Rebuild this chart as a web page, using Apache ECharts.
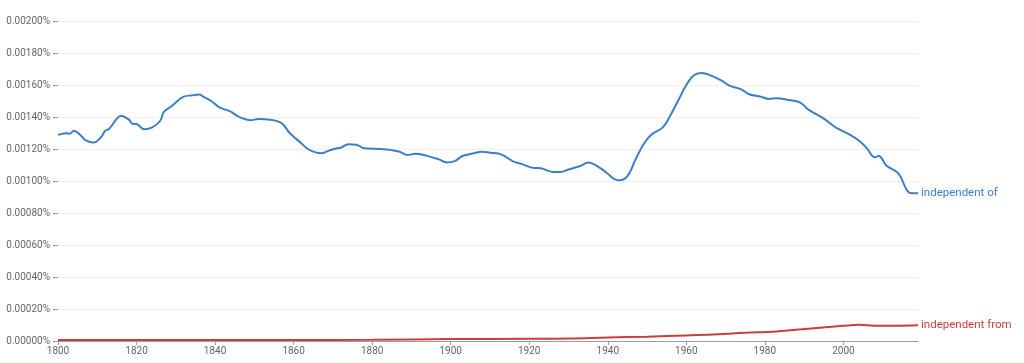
<!DOCTYPE html>
<html>
<head>
<meta charset="utf-8">
<script src="https://cdn.jsdelivr.net/npm/echarts@6/dist/echarts.min.js"></script>
<style>
html,body{margin:0;padding:0;background:#fff;}
#chart{width:1024px;height:363px;}
</style>
</head>
<body>
<div id="chart"></div>
<script>
// Tick labels
const xTickYears = [1800, 1820, 1840, 1860, 1880, 1900, 1920, 1940, 1960, 1980, 2000];

// Series: "independent of" (percent)
const ofYears = [1800,1802,1803,1804,1806,1807,1809,1811,1812,1813,1815,1816,1818,1819,1820,1822,1824,1826,1827,1829,1832,1834,1836,1837,1839,1841,1844,1846,1849,1851,1854,1857,1859,1862,1864,1867,1869,1871,1872,1874,1876,1878,1882,1885,1887,1889,1891,1894,1897,1899,1901,1903,1906,1908,1910,1913,1916,1918,1921,1923,1926,1928,1930,1933,1935,1938,1940,1942,1943,1945,1947,1949,1951,1954,1956,1958,1960,1962,1964,1966,1969,1971,1974,1976,1979,1981,1983,1986,1989,1991,1995,1998,2001,2004,2006,2008,2009,2011,2014,2016,2017,2019];
const ofValues = [0.001288,0.001298,0.001295,0.001314,0.001280,0.001255,0.001240,0.001275,0.001314,0.001325,0.001390,0.001408,0.001385,0.001358,0.001356,0.001323,0.001335,0.001375,0.001433,0.001469,0.001527,0.001535,0.001540,0.001527,0.001500,0.001462,0.001433,0.001402,0.001380,0.001387,0.001383,0.001360,0.001300,0.001235,0.001194,0.001173,0.001190,0.001205,0.001208,0.001230,0.001227,0.001204,0.001200,0.001193,0.001183,0.001162,0.001171,0.001157,0.001135,0.001116,0.001124,0.001156,0.001174,0.001183,0.001177,0.001165,0.001121,0.001107,0.001082,0.001079,0.001057,0.001057,0.001072,0.001094,0.001115,0.001082,0.001045,0.001008,0.001004,0.001030,0.001131,0.001225,0.001288,0.001335,0.001413,0.001506,0.001600,0.001662,0.001675,0.001662,0.001627,0.001596,0.001573,0.001542,0.001527,0.001513,0.001517,0.001506,0.001490,0.001448,0.001390,0.001335,0.001298,0.001252,0.001204,0.001148,0.001156,0.001095,0.001048,0.000950,0.000925,0.000923];

// Series: "independent from" (percent)
const fromYears = [1800,1820,1840,1860,1880,1900,1920,1930,1940,1950,1960,1968,1975,1983,1991,2000,2004,2008,2013,2019];
const fromValues = [0.000006,0.000007,0.000006,0.000006,0.000008,0.000012,0.000014,0.000016,0.000022,0.000027,0.000035,0.000042,0.000052,0.000060,0.000077,0.000095,0.000101,0.000095,0.000095,0.000098];

const seriesNames = ['independent of', 'independent from'];
const seriesColors = ['#3b7fc7', '#cc3e3c'];

function pairs(xs, ys) { return xs.map((x, i) => [x, ys[i]]); }

const chart = echarts.init(document.getElementById('chart'), null, {renderer: 'canvas'});
const fontFamily = 'Roboto, "Noto Sans", sans-serif';

function makeSeries(name, color, xs, ys) {
  return {
    name: name,
    type: 'line',
    data: pairs(xs, ys),
    smooth: 0.4,
    showSymbol: false,
    symbol: 'none',
    lineStyle: {color: color, width: 2},
    itemStyle: {color: color},
    endLabel: {
      show: true,
      formatter: name,
      color: color,
      fontFamily: fontFamily,
      fontSize: 11.5,
      distance: 3
    },
    animation: false,
    z: 3
  };
}

chart.setOption({
  animation: false,
  backgroundColor: '#ffffff',
  grid: {left: 58, right: 106, top: 21, bottom: 22, containLabel: false},
  xAxis: {
    type: 'value',
    min: 1800,
    max: 2019,
    interval: 20,
    axisLine: {show: true, lineStyle: {color: '#9e9e9e', width: 1}},
    axisTick: {show: true, length: 4, lineStyle: {color: '#9e9e9e'}, customValues: xTickYears},
    axisLabel: {
      color: '#666666', fontFamily: fontFamily, fontSize: 10, margin: 5,
      customValues: xTickYears,
      formatter: v => String(v)
    },
    splitLine: {show: false}
  },
  yAxis: {
    type: 'value',
    min: 0,
    max: 0.002,
    interval: 0.0002,
    axisLine: {show: false},
    axisTick: {show: true, length: 5, lineStyle: {color: '#9e9e9e'}},
    axisLabel: {
      color: '#666666', fontFamily: fontFamily, fontSize: 10, margin: 8,
      formatter: v => v.toFixed(5) + '%'
    },
    splitLine: {show: true, lineStyle: {color: '#f1f1f1', width: 1}}
  },
  series: [
    makeSeries(seriesNames[0], seriesColors[0], ofYears, ofValues),
    makeSeries(seriesNames[1], seriesColors[1], fromYears, fromValues)
  ]
});
</script>
</body>
</html>
